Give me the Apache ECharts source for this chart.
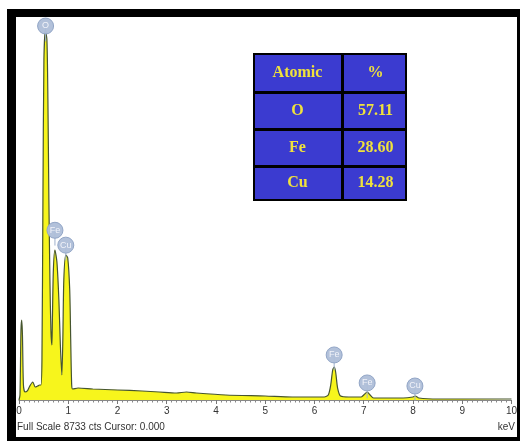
<!DOCTYPE html>
<html>
<head>
<meta charset="utf-8">
<script src="https://cdn.jsdelivr.net/npm/echarts@6/dist/echarts.min.js"></script>
<style>
html,body{margin:0;padding:0;background:#fff;}
#c{width:520px;height:441px;}
</style>
</head>
<body>
<div id="c"></div>
<script>
// Spectrum: energy (keV) and counts
var energy = [0.00,0.02,0.04,0.055,0.07,0.09,0.12,0.17,0.22,0.28,0.33,0.38,0.42,0.445,0.466,0.486,0.506,0.536,0.567,0.587,0.607,0.628,0.648,0.668,0.678,0.698,0.729,0.77,0.81,0.84,0.87,0.89,0.91,0.95,0.99,1.03,1.05,1.07,1.09,1.2,1.5,2.0,2.5,2.85,3.2,3.4,3.6,4.2,5.0,5.55,6.0,6.20,6.28,6.33,6.37,6.40,6.43,6.47,6.53,6.7,6.95,7.02,7.07,7.13,7.2,7.8,8.0,8.05,8.12,8.5,9.0,10.0];
var counts = [0,114,1600,1829,1486,343,183,206,320,411,297,320,343,343,914,4572,7772,8459,8230,6858,4572,2743,1600,1257,1829,2972,3429,3155,2286,1257,572,1372,2743,3315,3246,2515,1372,343,251,274,251,229,206,183,160,183,160,114,91,69,69,69,114,343,686,754,640,274,91,69,69,137,183,114,46,46,69,91,46,23,23,23];
var fullScale = 8733;
// Peak identification markers
var markerNames = ['O','Fe','Cu','Fe','Fe','Cu'];
var markerEnergy = [0.54,0.73,0.95,6.40,7.07,8.04];
var markerCounts = [8550,3880,3540,1030,390,320];
// Table
var tableHeader = ['Atomic','%'];
var tableElements = ['O','Fe','Cu'];
var tablePercent = ['57.11','28.60','14.28'];
var xTicks = ['0','1','2','3','4','5','6','7','8','9','10'];

var spec = energy.map(function(e,i){return [e,counts[i]];});
var markers = markerEnergy.map(function(e,i){return {value:[e,markerCounts[i]],name:markerNames[i]};});
var stems = [];
markerEnergy.forEach(function(e,i){ stems.push([e,markerCounts[i]]); stems.push([e,markerCounts[i]-350]); stems.push(null);});

var chart = echarts.init(document.getElementById('c'),null,{renderer:'canvas'});

var tx0=253, tx1=342, tx2=405, ty=[53,92,129,166,199];
var g = [
  {type:'rect',left:7,top:9,shape:{width:513,height:8},style:{fill:'#000'},z:100},
  {type:'rect',left:7,top:9,shape:{width:9,height:432},style:{fill:'#000'},z:100},
  {type:'rect',left:517,top:9,shape:{width:3,height:432},style:{fill:'#000'},z:100},
  {type:'rect',left:7,top:437,shape:{width:513,height:4},style:{fill:'#000'},z:100},
  {type:'rect',left:tx0,top:ty[0],shape:{width:tx2-tx0,height:ty[4]-ty[0]},style:{fill:'#3b3bd0',stroke:'#000',lineWidth:2},z:50},
  {type:'rect',left:tx1-1,top:ty[0],shape:{width:3,height:ty[4]-ty[0]},style:{fill:'#000'},z:51}
];
for (var r=1;r<4;r++) g.push({type:'rect',left:tx0,top:ty[r]-1,shape:{width:tx2-tx0,height:3},style:{fill:'#000'},z:51});
var rowsL = [tableHeader[0]].concat(tableElements);
var rowsR = [tableHeader[1]].concat(tablePercent);
for (var r=0;r<4;r++){
  var cy=(ty[r]+ty[r+1])/2;
  g.push({type:'text',x:(tx0+tx1)/2,y:cy,style:{text:rowsL[r],fill:'#f0e23c',font:'bold 16px "Liberation Serif", serif',textAlign:'center',textVerticalAlign:'middle'},z:52});
  g.push({type:'text',x:(tx1+tx2)/2+2,y:cy,style:{text:rowsR[r],fill:'#f0e23c',font:'bold 16px "Liberation Serif", serif',textAlign:'center',textVerticalAlign:'middle'},z:52});
}
g.push({type:'text',x:17,y:427,style:{text:'Full Scale '+fullScale+' cts Cursor: 0.000',fill:'#333',font:'10px "Liberation Sans", Arial, sans-serif',textVerticalAlign:'middle'},z:60});
g.push({type:'text',x:515,y:427,style:{text:'keV',fill:'#333',font:'10px "Liberation Sans", Arial, sans-serif',textAlign:'right',textVerticalAlign:'middle'},z:60});

chart.setOption({
  animation:false,
  backgroundColor:'#fff',
  grid:{left:19,right:7,top:18,bottom:41},
  xAxis:{type:'value',min:0,max:10,interval:1,
    axisLine:{show:true,lineStyle:{color:'#888',width:1}},
    axisTick:{show:true,length:4,lineStyle:{color:'#777'}},
    minorTick:{show:true,splitNumber:10,length:2.5,lineStyle:{color:'#888'}},
    splitLine:{show:false},
    axisLabel:{color:'#333',fontSize:10,fontFamily:'"Liberation Sans", Arial, sans-serif',margin:6,formatter:function(v){return xTicks[Math.round(v)];}}
  },
  yAxis:{type:'value',min:0,max:fullScale,show:false},
  graphic:g,
  series:[
    {type:'line',data:spec,smooth:0.25,symbol:'none',
     lineStyle:{color:'#46552f',width:1.2},
     areaStyle:{color:'#f7f51c',opacity:1},z:2},
    {type:'line',data:stems,symbol:'none',connectNulls:false,lineStyle:{color:'#9fb0cc',width:1},z:3},
    {type:'scatter',data:markers,symbolSize:16,
     itemStyle:{color:'#aebed8',borderColor:'#8ea2c4',borderWidth:1,opacity:0.95},
     label:{show:true,position:'inside',formatter:function(p){return p.name;},color:'#f4f6fb',fontSize:9,fontFamily:'"Liberation Sans", Arial, sans-serif'},z:4}
  ]
});
</script>
</body>
</html>
